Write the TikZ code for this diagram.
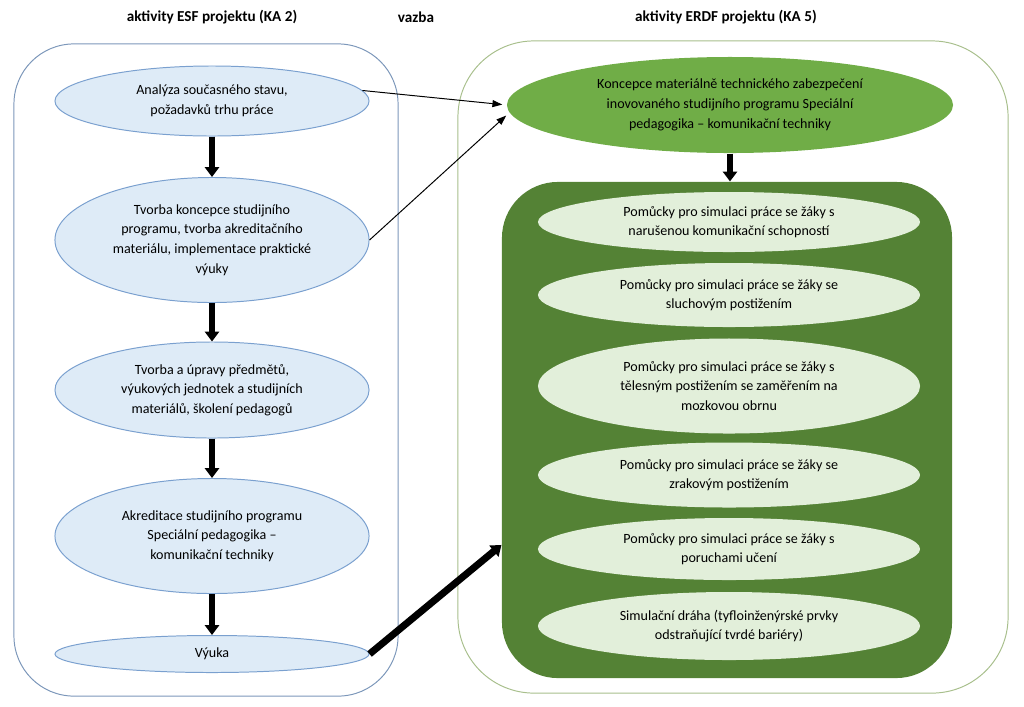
\documentclass[tikz,border=0pt]{standalone}
\usepackage{fontspec}
\setmainfont{Carlito}
\usetikzlibrary{%
  arrows,%
  arrows.meta,%
  shapes,% wg. ellipse
  positioning%
}
\definecolor{esfline}{HTML}{7C97BA}
\definecolor{esfedge}{HTML}{7AA0CF}
\definecolor{esffill}{HTML}{DEEBF7}
\definecolor{erdfline}{HTML}{A8BF8C}
\definecolor{erdfgreen}{HTML}{70AD47}
\definecolor{erdfdark}{HTML}{548235}
\definecolor{erdffill}{HTML}{E2EFDA}

\begin{document}
\begin{tikzpicture}
  [
  x=0.025cm, y=-0.025cm,
  font=\fontsize{10}{14}\selectfont, >=stealth', line width=0.7pt,
  title/.style={font=\fontsize{10.8}{14}\selectfont\bfseries},
  txt/.style={align=center, inner sep=0pt},
  esfbox/.style={rectangle, draw=esfline, rounded corners=1.5cm, minimum width=9.6cm, minimum height=16.3cm},
  erdfbox/.style={rectangle, draw=erdfline, rounded corners=1.9cm, minimum width=13.75cm, minimum height=16.3cm},
  toolbox/.style={rectangle, fill=erdfdark, rounded corners=1.4cm, minimum width=11.25cm, minimum height=12.4cm},
  activity/.style={ellipse, draw=esfedge, fill=esffill, minimum width=7.85cm},
  concept/.style={ellipse, fill=erdfgreen, minimum width=11.15cm, minimum height=2.4cm},
  tool/.style={ellipse, fill=erdffill, minimum width=9.55cm},
  flow/.style={-{Triangle[length=7pt,width=10pt]}, line width=4pt},
  link/.style={-{Triangle[length=7pt,width=5pt]}, line width=0.7pt}
  ]

\useasboundingbox (0,0) rectangle (1024,706);

% headings
\node[title] (h1) at (212,17) {aktivity ESF projektu (KA 2)};
\node[title] (h2) at (416,17) {vazba};
\node[title] (h3) at (726,17) {aktivity ERDF projektu (KA 5)};

% containers
\node[esfbox] (esf) at (206,370) {};
\node[erdfbox] (erdf) at (733,367) {};
\node[toolbox] (pomucky) at (727,430) {};

% ESF activities
\foreach \n/\y/\h/\txt in {
  analyza/101/1.75/{Analýza současného stavu,\\požadavků trhu práce},
  tvorba/240/3.125/{Tvorba koncepce studijního\\programu, tvorba akreditačního\\materiálu, implementace praktické\\výuky},
  upravy/390/2.4/{Tvorba a úpravy předmětů,\\výukových jednotek a studijních\\materiálů, školení pedagogů},
  akreditace/536/2.875/{Akreditace studijního programu\\Speciální pedagogika --\\komunikační techniky},
  vyuka/654/0.925/{Výuka}} {
  \node[activity, minimum height=\h cm] (\n) at (212,\y) {};
  \node[txt] (\n text) at (\n) {\txt};
}

\foreach \a/\b in {analyza/tvorba, tvorba/upravy, upravy/akreditace, akreditace/vyuka} {
  \draw[flow] (\a.south) -- (\b.north);
}

% ERDF activities
\node[concept] (koncepce) at (730,105) {};
\node[txt] (koncepce text) at (koncepce) {Koncepce materiálně technického zabezpečení\\inovovaného studijního programu Speciální\\pedagogika -- komunikační techniky};

\foreach \n/\y/\h/\txt in {
  1/222/1.5/{Pomůcky pro simulaci práce se žáky s\\narušenou komunikační schopností},
  2/295/1.6/{Pomůcky pro simulaci práce se žáky se\\sluchovým postižením},
  3/386/2.375/{Pomůcky pro simulaci práce se žáky s\\tělesným postižením se zaměřením na\\mozkovou obrnu},
  4/475/1.625/{Pomůcky pro simulaci práce se žáky se\\zrakovým postižením},
  5/549/1.55/{Pomůcky pro simulaci práce se žáky s\\poruchami učení},
  6/626/1.7/{Simulační dráha (tyfloinženýrské prvky\\odstraňující tvrdé bariéry)}} {
  \node[tool, minimum height=\h cm] (p\n) at (729,\y) {};
  \node[txt] (p\n text) at (p\n) {\txt};
}

\draw[flow] (koncepce.south) -- (koncepce.south |- pomucky.north);

% vazba
\draw[link, shorten >=3pt] (analyza.4) -- (koncepce.west);
\draw[link, shorten >=3pt] (tvorba.east) -- (koncepce.182);
\draw[flow, line width=5pt] (vyuka.east) -- (pomucky.207);

\end{tikzpicture}
\end{document}
